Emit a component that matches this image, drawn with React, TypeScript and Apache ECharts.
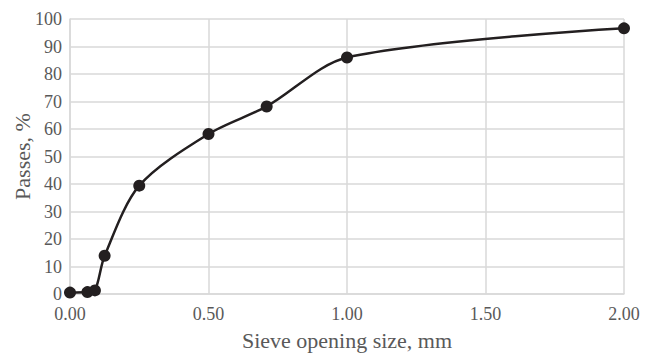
import React, { useEffect, useRef } from "react";
import * as echarts from "echarts";

const sieveSizes = [0, 0.063, 0.09, 0.125, 0.25, 0.5, 0.71, 1.0, 2.0];
const passes = [0.5, 0.7, 1.3, 13.9, 39.4, 58.2, 68.2, 86.0, 96.6];
const xTicks = [0, 0.5, 1.0, 1.5, 2.0];
const yTicks = [0, 10, 20, 30, 40, 50, 60, 70, 80, 90, 100];
const xTitle = "Sieve opening size, mm";
const yTitle = "Passes, %";

export default function App() {
  const ref = useRef<HTMLDivElement>(null);
  useEffect(() => {
    if (!ref.current) return;
    const chart = echarts.init(ref.current, null, { renderer: "svg" });
    const font = "'Liberation Serif', 'Times New Roman', serif";
    chart.setOption({
      animation: false,
      grid: { left: 70, right: 25, top: 19, bottom: 60, containLabel: false, outerBoundsMode: "none" },
      xAxis: {
        type: "value",
        min: xTicks[0],
        max: xTicks[xTicks.length - 1],
        interval: 0.5,
        name: xTitle,
        nameLocation: "middle",
        nameGap: 35,
        nameMoveOverlap: false,
        nameTextStyle: { fontFamily: font, fontSize: 22, color: "#595959" },
        axisLine: { show: true, lineStyle: { color: "#d9d9d9", width: 1.5 } },
        axisTick: { show: false },
        axisLabel: {
          fontFamily: font,
          fontSize: 18,
          color: "#595959",
          margin: 11,
          formatter: (v: number) => v.toFixed(2),
        },
        splitLine: { show: true, lineStyle: { color: "#d9d9d9", width: 1.5 } },
      },
      yAxis: {
        type: "value",
        min: yTicks[0],
        max: yTicks[yTicks.length - 1],
        interval: 10,
        name: yTitle,
        nameLocation: "middle",
        nameGap: 37,
        nameMoveOverlap: false,
        nameTextStyle: { fontFamily: font, fontSize: 22, color: "#595959" },
        axisLine: { show: true, lineStyle: { color: "#d9d9d9", width: 1.5 } },
        axisTick: { show: false },
        axisLabel: { fontFamily: font, fontSize: 18, color: "#595959", margin: 8 },
        splitLine: { show: true, lineStyle: { color: "#d9d9d9", width: 1.5 } },
      },
      series: [
        {
          type: "line",
          data: sieveSizes.map((x, i) => [x, passes[i]]),
          smooth: 0.3,
          symbol: "circle",
          symbolSize: 12,
          lineStyle: { color: "#231f20", width: 2.5 },
          itemStyle: { color: "#231f20" },
        },
      ],
    });
    return () => chart.dispose();
  }, []);
  return <div ref={ref} style={{ width: 649, height: 354, position: "absolute", left: 0, top: 0 }} />;
}
